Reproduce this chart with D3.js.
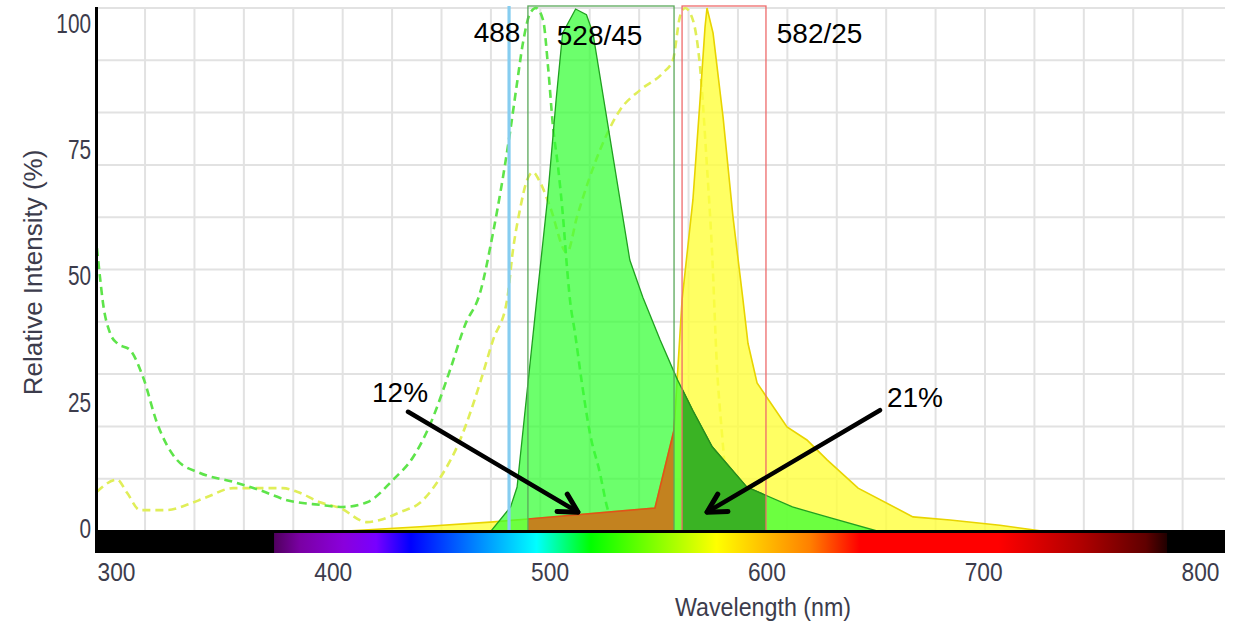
<!DOCTYPE html>
<html>
<head>
<meta charset="utf-8">
<script src="https://cdn.jsdelivr.net/npm/d3@7"></script>
<style>
  html, body { margin: 0; padding: 0; background: #fff; }
  svg { display: block; font-family: "Liberation Sans", Arial, sans-serif; }
</style>
</head>
<body>
<svg id="chart" width="1240" height="624"></svg>
<script>
// ---------------- data (nm, relative intensity %) ----------------
const gfpEmNm  = [473, 482, 485, 494, 499, 503, 506, 512, 517, 520, 537, 543, 551, 559, 566, 575, 591, 612, 628, 651];
const gfpEmVal = [0, 4.6, 8.4, 44, 63.3, 82.4, 95.2, 99.8, 98.7, 95.2, 51.8, 44.7, 36.5, 28.9, 23.1, 16.1, 8.4, 4.6, 2.7, 0];

const peEmNm  = [406.5, 440.2, 472.5, 490.0, 548.6, 557.4, 561.1, 566.1, 569.4, 571.7, 572.6, 575.4, 580.0, 584.6, 589.2, 591.5, 595.7, 609.5, 618.7, 628.0, 642.3, 667.6, 684.7, 707.7, 727.1];
const peEmVal = [0, 0.8, 1.7, 2.3, 4.4, 19.3, 44.2, 63.3, 82.4, 96.4, 100, 95.2, 79.2, 60, 44.2, 35.9, 28.3, 19.9, 17.4, 13.6, 8.2, 2.7, 2.1, 1.1, 0];

const gfpExNm  = [291.2, 292.6, 294.0, 297.2, 300.5, 306.5, 312.5, 318.9, 328.1, 338.7, 354.0, 366.4, 378.9, 394.1, 404.7, 415.8, 427.8, 437.0, 444.8, 454.1, 461.0, 467.9, 473.9, 481.7, 485.0, 487.7, 491.0, 493.7, 497.0, 499.3, 501.6, 503.9, 506.2, 508.0, 509.4, 511.7, 514.9, 518.6, 523.2, 526.5, 530.2];
const gfpExVal = [54.1, 48.6, 43.6, 37.9, 35.9, 34.6, 29.4, 20.7, 13.6, 11.1, 9.4, 7.8, 5.9, 5.0, 4.6, 5.5, 9.8, 14.1, 20.3, 30.8, 39.4, 45.5, 57, 76.1, 85.7, 93.3, 99, 100, 97.7, 88.7, 77.2, 69.6, 60, 50.5, 44.2, 37.9, 28.3, 18.7, 11.1, 4.6, 0.6];

const peExNm  = [291.2, 300.5, 305.1, 311.1, 323.5, 332.7, 342.0, 354.0, 366.4, 377.0, 383.5, 394.1, 403.3, 415.8, 421.8, 431.0, 440.2, 449.4, 458.7, 467.9, 473.9, 480.4, 483.1, 486.3, 489.6, 492.3, 495.6, 500.2, 508.0, 512.6, 523.2, 532.5, 541.7, 552.3, 556.9, 560.1, 562.5, 566.1, 569.4, 572.6, 574.9, 577.2, 579.5, 580.9];
const peExVal = [7.5, 9.8, 7.3, 4.0, 4.0, 5.0, 6.5, 8.2, 8.2, 8.2, 7.5, 5.5, 4.4, 1.7, 2.1, 3.6, 5.4, 10.1, 17.4, 28.3, 36.5, 44.2, 53.7, 61.4, 67.1, 68.6, 66.7, 62, 53.2, 60, 72.8, 80.5, 84.3, 87.6, 90.1, 98.3, 100, 97.7, 88.7, 69.6, 53.7, 31.4, 18.7, 11.7];

// filters and laser (nm)
const laserNm = 481.3;
const filterGreen = [490.0, 557.4];   // 528/45
const filterRed   = [561.1, 599.8];   // 582/25

// tick labels
const xTicks = [300, 400, 500, 600, 700, 800];
const yTicks = [0, 25, 50, 75, 100];
const yGrid  = [10, 20, 30, 40, 50, 60, 70, 80, 90, 100];
const xGridStart = 313.4, xGridStep = 22.79, xGridCount = 22;

// spectrum bar stops (nm, colour)
const specNm  = [372.9, 385, 405, 420, 436, 494, 519, 577, 620, 643, 707, 745, 775, 784.8];
const specCol = ["#50005e", "#7a00a4", "#8a00dc", "#7800ff", "#0000ff", "#00ffff", "#00ff00", "#ffff00", "#ff8000", "#ff0000", "#ff0000", "#b00000", "#600000", "#200000"];

// annotations: text, nm, value (baseline anchor)
const annoText = ["488", "528/45", "582/25", "12%", "21%"];
const annoNm   = [465.0, 503.3, 604.8, 418.1, 655.6];
const annoVal  = [93.5, 92.9, 93.3, 24.7, 23.7];
// arrows: from (nm,val) to (nm,val)
const arrowFromNm = [434.7, 652.4], arrowFromVal = [22.8, 23.1];
const arrowToNm   = [513.1, 572.6], arrowToVal   = [3.6, 3.6];

// ---------------- scales ----------------
const svg = d3.select("#chart");
const x = d3.scaleLinear().domain([300, 800]).range([116, 1200]);
const y = d3.scaleLinear().domain([0, 100]).range([531, 8]);
const yLab = d3.scaleLinear().domain([0, 100]).range([528, 22.5]);
const left = 97, right = 1225, base = y(0);

const defs = svg.append("defs");
defs.append("clipPath").attr("id", "plotClip").append("rect")
  .attr("x", left).attr("y", 0).attr("width", right - left).attr("height", base);
defs.append("clipPath").attr("id", "clipGreenBox").append("rect")
  .attr("x", x(filterGreen[0])).attr("y", 0)
  .attr("width", x(filterGreen[1]) - x(filterGreen[0])).attr("height", base + 1);
defs.append("clipPath").attr("id", "clipRedBox").append("rect")
  .attr("x", x(filterRed[0])).attr("y", 0)
  .attr("width", x(filterRed[1]) - x(filterRed[0])).attr("height", base + 1);

const s0 = x(specNm[0]), s1 = x(specNm[specNm.length - 1]);
const grad = defs.append("linearGradient").attr("id", "spec")
  .attr("gradientUnits", "userSpaceOnUse")
  .attr("x1", s0).attr("x2", s1).attr("y1", 0).attr("y2", 0);
specNm.forEach((n, i) => grad.append("stop")
  .attr("offset", (x(n) - s0) / (s1 - s0)).attr("stop-color", specCol[i]));

// ---------------- grid ----------------
const gridX = d3.range(xGridCount).map(i => xGridStart + i * xGridStep);
svg.append("g").selectAll("line").data(gridX).join("line")
  .attr("x1", d => x(d)).attr("x2", d => x(d))
  .attr("y1", y(100)).attr("y2", base)
  .attr("stroke", "#e2e2e2").attr("stroke-width", 2);
svg.append("g").selectAll("line").data(yGrid).join("line")
  .attr("x1", left).attr("x2", right)
  .attr("y1", d => y(d)).attr("y2", d => y(d))
  .attr("stroke", "#e2e2e2").attr("stroke-width", 2);

// ---------------- curves ----------------
const plot = svg.append("g").attr("clip-path", "url(#plotClip)");
const line = d3.line().x(d => x(d[0])).y(d => y(d[1])).curve(d3.curveMonotoneX);
const area = d3.area().x(d => x(d[0])).y0(base).y1(d => y(d[1]));

const gfpEm = d3.zip(gfpEmNm, gfpEmVal);
const peEm  = d3.zip(peEmNm, peEmVal);
const gfpEx = d3.zip(gfpExNm, gfpExVal);
const peEx  = d3.zip(peExNm, peExVal);

plot.append("path").attr("d", line(peEx))
  .attr("fill", "none").attr("stroke", "#e0ee58").attr("stroke-width", 2.6)
  .attr("stroke-dasharray", "8,5");
plot.append("path").attr("d", line(gfpEx))
  .attr("fill", "none").attr("stroke", "#5ee44a").attr("stroke-width", 2.6)
  .attr("stroke-dasharray", "8,5");

plot.append("path").attr("d", area(peEm))
  .attr("fill", "#ffff3c").attr("fill-opacity", 0.8)
  .attr("stroke", "#e8d400").attr("stroke-width", 1.6);
plot.append("path").attr("d", area(gfpEm))
  .attr("fill", "#33ff33").attr("fill-opacity", 0.72)
  .attr("stroke", "#20a020").attr("stroke-width", 1.3);

// spillover regions
plot.append("path").attr("d", area(peEm)).attr("clip-path", "url(#clipGreenBox)")
  .attr("fill", "#c3821f").attr("stroke", "#e2521a").attr("stroke-width", 1.6);
plot.append("path").attr("d", area(gfpEm)).attr("clip-path", "url(#clipRedBox)")
  .attr("fill", "#36ad22").attr("fill-opacity", 0.92)
  .attr("stroke", "#2a8a1e").attr("stroke-width", 1.3);

// filter boxes
svg.append("rect")
  .attr("x", x(filterGreen[0])).attr("y", 6)
  .attr("width", x(filterGreen[1]) - x(filterGreen[0])).attr("height", base - 6)
  .attr("fill", "none").attr("stroke", "#5aa85a").attr("stroke-width", 1.3);
svg.append("rect")
  .attr("x", x(filterRed[0])).attr("y", 6)
  .attr("width", x(filterRed[1]) - x(filterRed[0])).attr("height", base - 6)
  .attr("fill", "none").attr("stroke", "#ee6a6a").attr("stroke-width", 1.3);

// laser line
svg.append("line")
  .attr("x1", x(laserNm)).attr("x2", x(laserNm)).attr("y1", 6).attr("y2", base)
  .attr("stroke", "#86cdf0").attr("stroke-width", 3.2);

// ---------------- spectrum bar & axes ----------------
svg.append("rect").attr("x", left).attr("y", 530).attr("width", right - left).attr("height", 23).attr("fill", "#000");
svg.append("rect").attr("x", s0).attr("y", 533).attr("width", s1 - s0).attr("height", 20).attr("fill", "url(#spec)");
svg.append("line").attr("x1", 96.5).attr("x2", 96.5).attr("y1", 7).attr("y2", 553)
  .attr("stroke", "#000").attr("stroke-width", 3);

const xAxis = svg.append("g").attr("transform", "translate(0,563)")
  .call(d3.axisBottom(x).tickValues(xTicks).tickSize(0).tickPadding(0).tickFormat(d3.format("d")));
xAxis.select(".domain").remove();
xAxis.selectAll("text")
  .attr("y", 0).attr("dy", "0.71em")
  .attr("font-size", 25).attr("fill", "#3c3c4c")
  .attr("font-family", "'Liberation Sans', Arial, sans-serif")
  .attr("transform", "scale(0.91,1)");

const yAxis = svg.append("g").attr("transform", "translate(91,0)")
  .call(d3.axisLeft(yLab).tickValues(yTicks).tickSize(0).tickPadding(0).tickFormat(d3.format("d")));
yAxis.select(".domain").remove();
yAxis.selectAll("text")
  .attr("x", 0).attr("dy", "0.36em")
  .attr("font-size", 27).attr("fill", "#3c3c4c")
  .attr("font-family", "'Liberation Sans', Arial, sans-serif")
  .attr("transform", "scale(0.77,1)");

svg.append("text")
  .attr("transform", "translate(763,616) scale(0.93,1)")
  .attr("text-anchor", "middle").attr("font-size", 25).attr("fill", "#3c3c4c")
  .text("Wavelength (nm)");
svg.append("text")
  .attr("transform", "translate(42,272.5) rotate(-90)")
  .attr("text-anchor", "middle").attr("font-size", 26).attr("fill", "#3c3c4c")
  .text("Relative Intensity (%)");

// ---------------- annotations ----------------
svg.append("g").selectAll("text").data(d3.range(annoText.length)).join("text")
  .attr("x", i => x(annoNm[i])).attr("y", i => y(annoVal[i]))
  .attr("font-size", 28).attr("fill", "#000")
  .text(i => annoText[i]);

const arrows = svg.append("g").attr("stroke", "#000").attr("fill", "none")
  .attr("stroke-linecap", "round").attr("stroke-linejoin", "round");
arrowFromNm.forEach((_, i) => {
  const x1 = x(arrowFromNm[i]), y1 = y(arrowFromVal[i]);
  const x2 = x(arrowToNm[i]), y2 = y(arrowToVal[i]);
  arrows.append("line").attr("x1", x1).attr("y1", y1).attr("x2", x2).attr("y2", y2)
    .attr("stroke-width", 4.5);
  const ang = Math.atan2(y1 - y2, x1 - x2), spread = 0.5, L = 21;
  const p1 = [x2 + L * Math.cos(ang - spread), y2 + L * Math.sin(ang - spread)];
  const p2 = [x2 + L * Math.cos(ang + spread), y2 + L * Math.sin(ang + spread)];
  arrows.append("path").attr("d", `M${p1[0]},${p1[1]}L${x2},${y2}L${p2[0]},${p2[1]}`)
    .attr("stroke-width", 5);
});
</script>
</body>
</html>
